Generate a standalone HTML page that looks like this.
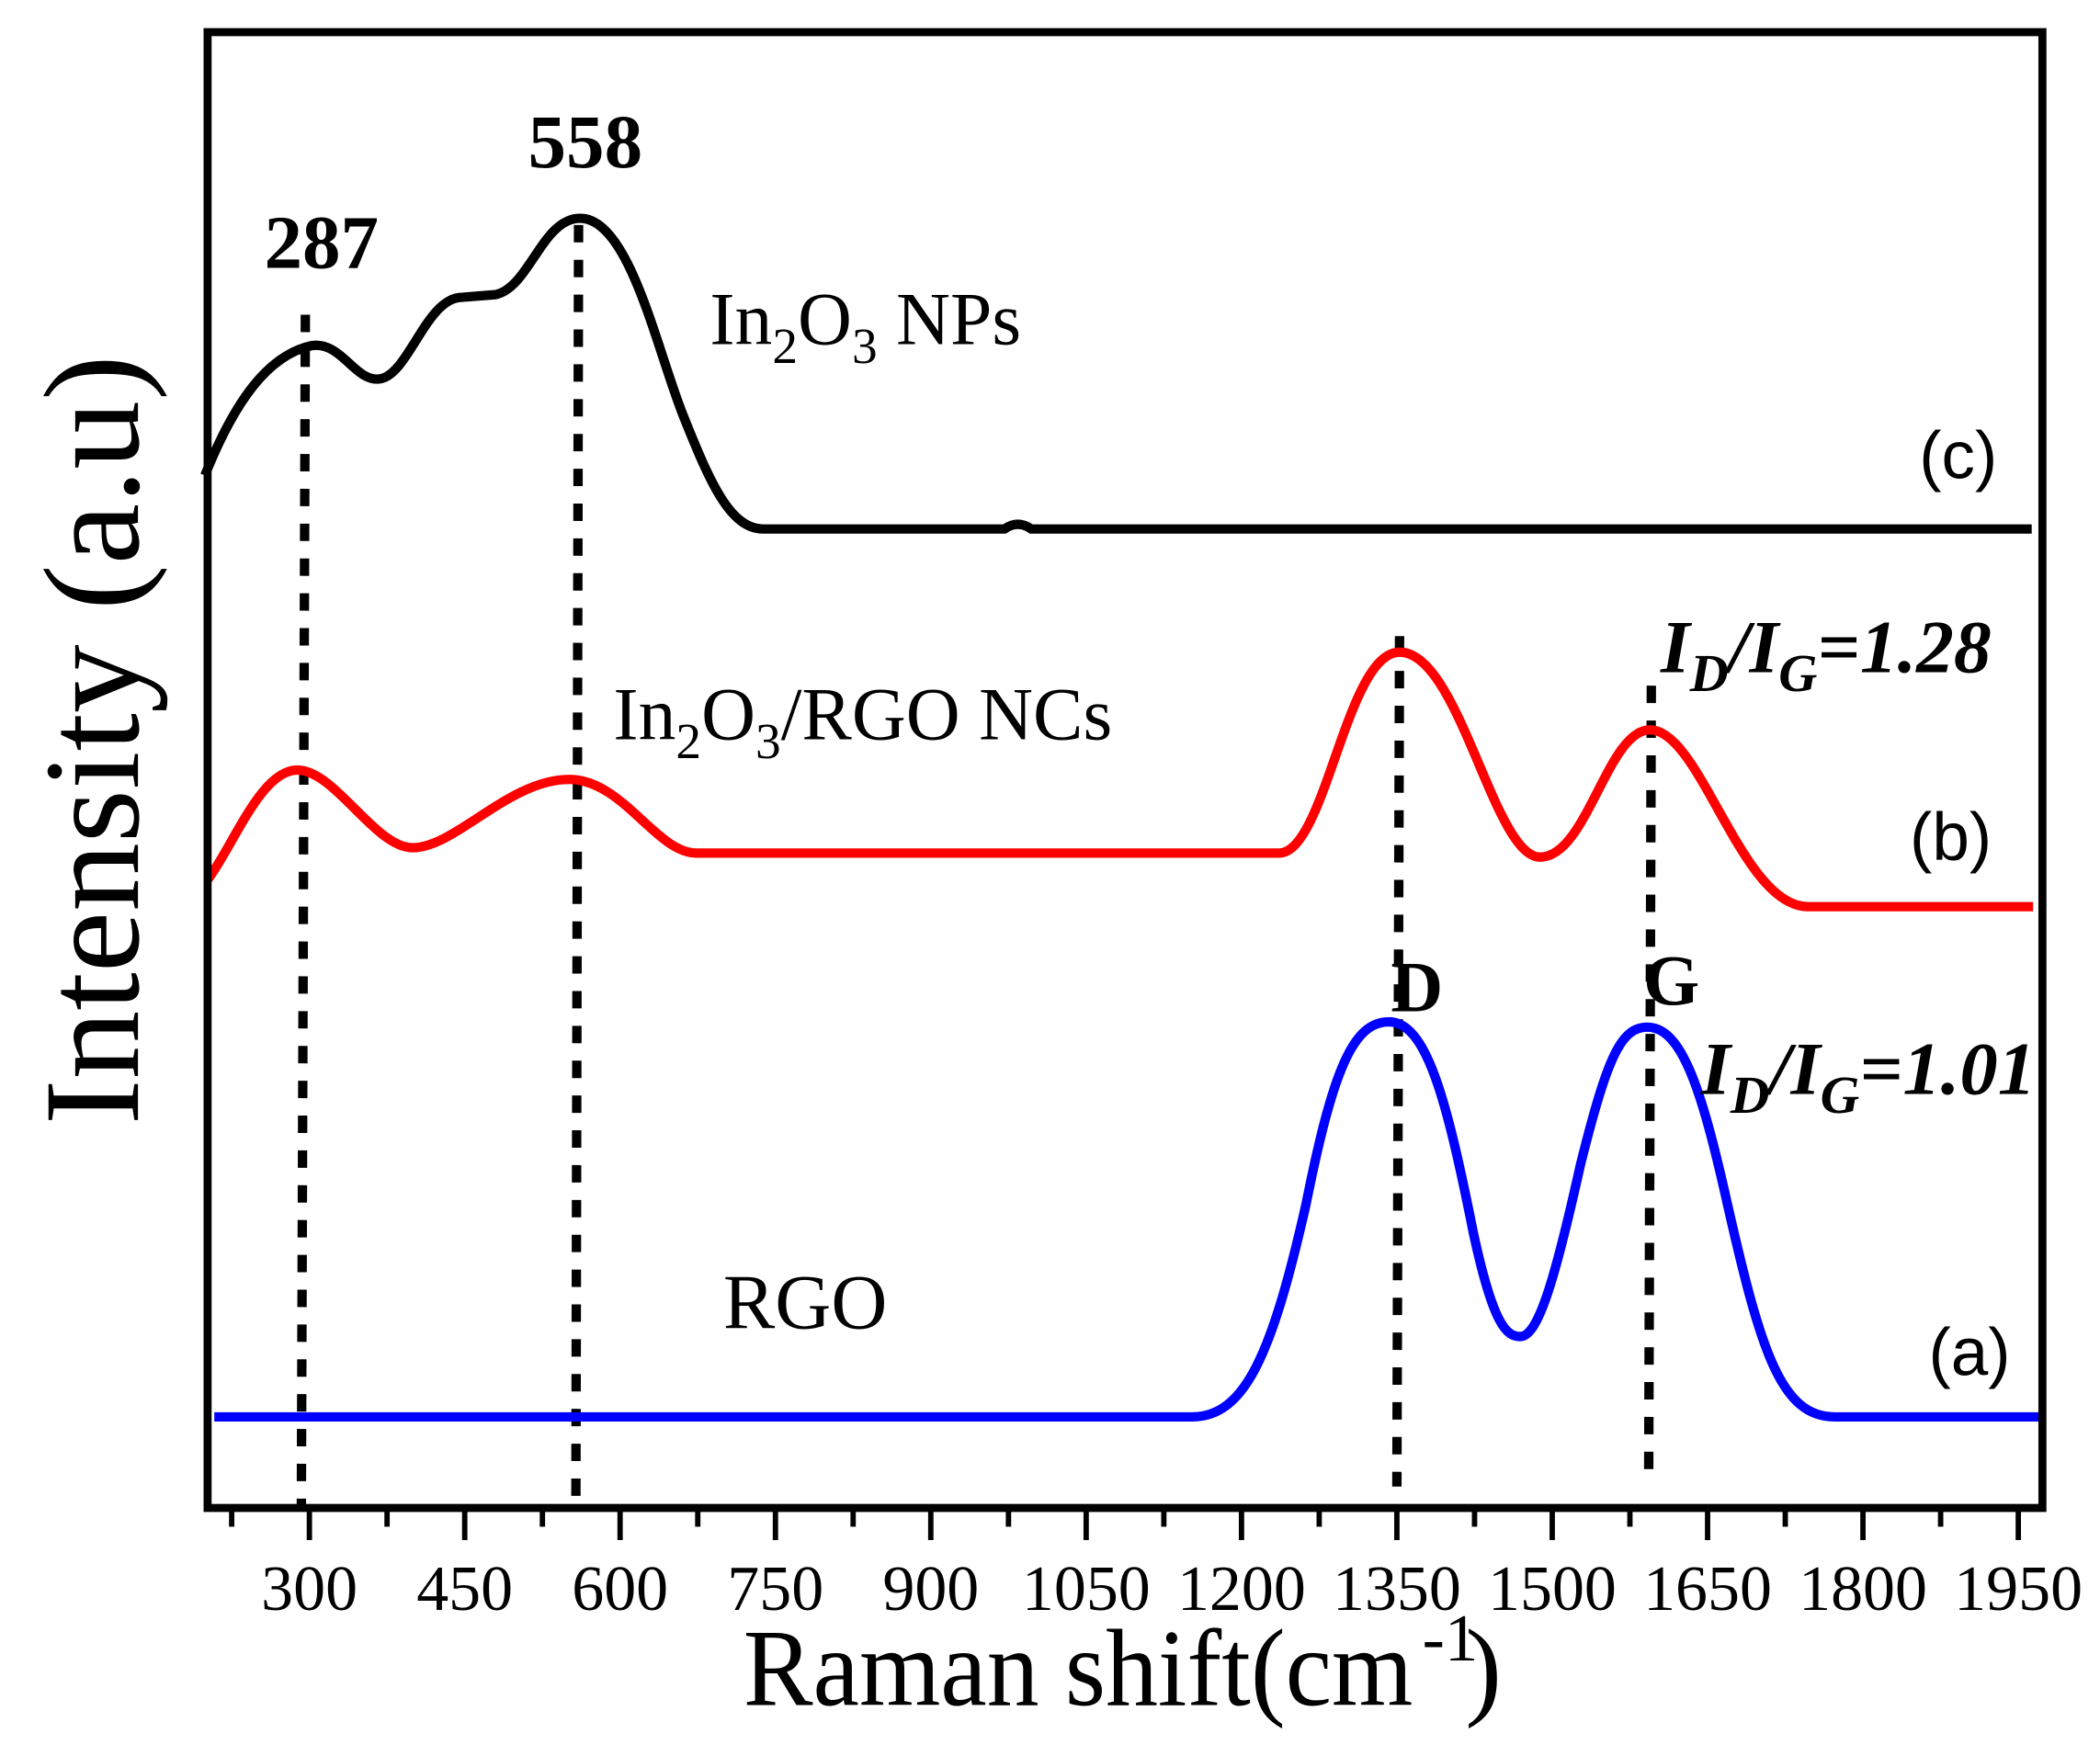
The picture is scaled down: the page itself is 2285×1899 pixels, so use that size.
<!DOCTYPE html>
<html><head><style>html,body{margin:0;padding:0;background:#fff}svg{display:block}</style></head>
<body>
<svg width="2285" height="1899" viewBox="0 0 1568 1303" preserveAspectRatio="none" xmlns="http://www.w3.org/2000/svg">
<rect width="1568" height="1303" fill="#fff"/>
<g font-family="Liberation Serif, serif">
<g stroke="#000" stroke-width="7" stroke-dasharray="13 13" fill="none">
<line x1="228" y1="235" x2="225" y2="1125"/>
<line x1="432" y1="168" x2="430" y2="1118"/>
<line x1="1045" y1="475" x2="1043" y2="1110"/>
<line x1="1233" y1="512" x2="1231" y2="1110"/>
</g>
<path d="M153,355 C175,300 200,265 233,258 C255,255 265,285 283,283 C305,281 318,222 345,222 L370,220 C395,215 405,163 433,163 C470,163 490,260 510,310 C530,360 545,395 570,395 L750,395 Q760,388 770,395 L1517,395" fill="none" stroke="#000" stroke-width="7"/>
<path d="M155,657 C175,630 195,575 222,575 C250,575 280,633 308,633 C340,633 380,582 425,582 C465,582 490,637 520,637 L955,637 C990,637 1005,487 1045,487 C1090,487 1115,640 1150,640 C1185,640 1200,545 1232,545 C1270,545 1300,677 1350,677 L1518,677" fill="none" stroke="#f00" stroke-width="7"/>
<path d="M160,1058 L890,1058 C930,1058 950,1010 975,900 C995,800 1010,763 1037,763 C1065,763 1080,820 1100,920 C1115,990 1125,998 1135,998 C1148,998 1160,960 1180,870 C1200,790 1210,767 1230,767 C1255,767 1270,810 1290,900 C1315,1010 1330,1058 1370,1058 L1525,1058" fill="none" stroke="#00f" stroke-width="7"/>
<rect x="155" y="24" width="1370" height="1102" fill="none" stroke="#000" stroke-width="6"/>
<g stroke="#000" stroke-width="4">
<line x1="231" y1="1126" x2="231" y2="1150"/><line x1="347" y1="1126" x2="347" y2="1150"/><line x1="463" y1="1126" x2="463" y2="1150"/><line x1="579" y1="1126" x2="579" y2="1150"/><line x1="695" y1="1126" x2="695" y2="1150"/><line x1="811" y1="1126" x2="811" y2="1150"/><line x1="927" y1="1126" x2="927" y2="1150"/><line x1="1043" y1="1126" x2="1043" y2="1150"/><line x1="1159" y1="1126" x2="1159" y2="1150"/><line x1="1275" y1="1126" x2="1275" y2="1150"/><line x1="1391" y1="1126" x2="1391" y2="1150"/><line x1="1507" y1="1126" x2="1507" y2="1150"/>
<line x1="173" y1="1126" x2="173" y2="1140"/><line x1="289" y1="1126" x2="289" y2="1140"/><line x1="405" y1="1126" x2="405" y2="1140"/><line x1="521" y1="1126" x2="521" y2="1140"/><line x1="637" y1="1126" x2="637" y2="1140"/><line x1="753" y1="1126" x2="753" y2="1140"/><line x1="869" y1="1126" x2="869" y2="1140"/><line x1="985" y1="1126" x2="985" y2="1140"/><line x1="1101" y1="1126" x2="1101" y2="1140"/><line x1="1217" y1="1126" x2="1217" y2="1140"/><line x1="1333" y1="1126" x2="1333" y2="1140"/><line x1="1449" y1="1126" x2="1449" y2="1140"/>
</g>
<g font-size="48" text-anchor="middle">
<text x="231" y="1202">300</text><text x="347" y="1202">450</text><text x="463" y="1202">600</text><text x="579" y="1202">750</text><text x="695" y="1202">900</text><text x="811" y="1202">1050</text><text x="927" y="1202">1200</text><text x="1043" y="1202">1350</text><text x="1159" y="1202">1500</text><text x="1275" y="1202">1650</text><text x="1391" y="1202">1800</text><text x="1507" y="1202">1950</text>
</g>
<text x="555" y="1273" font-size="82" textLength="500" lengthAdjust="spacingAndGlyphs">Raman shift(cm</text>
<text x="1062" y="1240" font-size="50">-1</text>
<text x="1094" y="1273" font-size="82">)</text>
<text transform="translate(103,840) rotate(-90)" font-size="102" textLength="575" lengthAdjust="spacingAndGlyphs">Intensity (a.u)</text>
<g font-weight="bold" font-size="57" text-anchor="middle">
<text x="240" y="200">287</text><text x="437" y="125">558</text>
</g>
<g font-weight="bold" font-size="54" text-anchor="middle">
<text x="1058" y="755">D</text><text x="1248" y="750">G</text>
</g>
<text x="530" y="257" font-size="56">In<tspan font-size="38" dy="14">2</tspan><tspan dy="-14">O</tspan><tspan font-size="38" dy="14">3</tspan><tspan dy="-14"> NPs</tspan></text>
<text x="458" y="552" font-size="56">In<tspan font-size="38" dy="14">2</tspan><tspan dy="-14">O</tspan><tspan font-size="38" dy="14">3</tspan><tspan dy="-14">/RGO NCs</tspan></text>
<text x="540" y="992" font-size="58">RGO</text>
<g font-weight="bold" font-style="italic" font-size="56">
<text x="1240" y="502">I<tspan font-size="40" dy="14">D</tspan><tspan dy="-14">/I</tspan><tspan font-size="40" dy="14">G</tspan><tspan dy="-14">=1.28</tspan></text>
<text x="1270" y="817" textLength="250" lengthAdjust="spacingAndGlyphs">I<tspan font-size="40" dy="14">D</tspan><tspan dy="-14">/I</tspan><tspan font-size="40" dy="14">G</tspan><tspan dy="-14">=1.01</tspan></text>
</g>
</g>
<g font-family="Liberation Sans, sans-serif" font-size="50">
<text x="1433" y="357">(c)</text><text x="1426" y="642">(b)</text><text x="1440" y="1027">(a)</text>
</g>
</svg>
</body></html>
